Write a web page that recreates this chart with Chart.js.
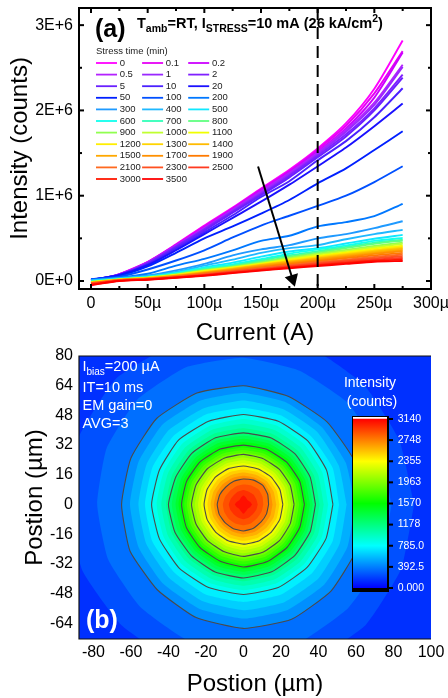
<!DOCTYPE html>
<html>
<head>
<meta charset="utf-8">
<style>
  body { margin: 0; background: #fff; }
  canvas { position: absolute; }
</style>
<script src="https://cdn.jsdelivr.net/npm/chart.js@4"></script>
</head>
<body>
<canvas id="curves" width="448" height="345" style="left:0;top:0"></canvas>
<canvas id="map" width="448" height="353" style="left:0;top:345px"></canvas>
<canvas id="bar" width="100" height="240" style="left:340px;top:370px"></canvas>
<script>
const FONT = '"Liberation Sans", Arial, sans-serif';

// --- panel (a): intensity vs current, values in thousand counts ---
const currents = [0, 25, 50, 75, 100, 125, 150, 175, 200, 225, 250, 275];
const stressTimes = ['0', '0.1', '0.2', '0.5', '1', '2', '5', '10', '20', '50', '100', '200', '300', '400', '500', '600',
  '700', '800', '900', '1000', '1100', '1200', '1300', '1400', '1500', '1700', '1900', '2100', '2300', '2500', '3000', '3500'];
const stressColors = ['#ff00ff', '#e600f5', '#cc00ff', '#b422ff', '#9a28ff', '#8020ff', '#6a20ff', '#4a20ff', '#1a10ff', '#0020ff', '#0050ff', '#0078ff',
  '#1f9aff', '#1fb8ff', '#10e8ff', '#10ffee', '#30ffb8', '#60ff80', '#90ff50', '#c0ff30', '#f0ff00', '#ffee00', '#ffd400', '#ffbb00',
  '#ffa800', '#ff9000', '#ff7a00', '#ff6a20', '#ff5020', '#ff3a20', '#ff1800', '#ff0000'];
const intensity = [
  [-55, 80, 225, 430, 650, 860, 1085, 1305, 1555, 1850, 2255, 2820],
  [-20, 80, 222, 425, 640, 850, 1075, 1290, 1540, 1820, 2200, 2695],
  [-10, 78, 220, 420, 630, 845, 1065, 1280, 1520, 1790, 2150, 2680],
  [0, 77, 218, 415, 620, 835, 1050, 1265, 1505, 1770, 2090, 2535],
  [5, 76, 215, 410, 610, 825, 1035, 1250, 1490, 1750, 2065, 2510],
  [8, 75, 210, 405, 605, 815, 1020, 1235, 1470, 1720, 2025, 2420],
  [10, 74, 205, 395, 590, 800, 1005, 1215, 1450, 1695, 2000, 2385],
  [12, 72, 195, 380, 570, 770, 985, 1170, 1415, 1640, 1920, 2260],
  [15, 70, 185, 360, 550, 740, 930, 1130, 1345, 1565, 1815, 2080],
  [20, 60, 170, 330, 500, 640, 790, 950, 1145, 1320, 1535, 1755],
  [20, 50, 135, 240, 360, 510, 650, 765, 880, 1000, 1160, 1345],
  [15, 40, 85, 180, 260, 360, 470, 530, 640, 690, 760, 905],
  [10, 35, 65, 125, 200, 300, 370, 420, 500, 550, 620, 700],
  [5, 30, 55, 105, 180, 250, 330, 385, 420, 490, 550, 600],
  [0, 25, 50, 95, 160, 215, 285, 345, 385, 440, 495, 540],
  [-5, 22, 48, 90, 150, 195, 255, 320, 370, 415, 470, 505],
  [-8, 20, 45, 85, 140, 180, 240, 300, 350, 400, 450, 485],
  [-10, 20, 42, 80, 130, 170, 225, 285, 335, 385, 435, 475],
  [-12, 18, 40, 75, 125, 165, 215, 270, 320, 365, 410, 450],
  [-14, 18, 38, 72, 120, 160, 205, 260, 310, 350, 395, 435],
  [-16, 16, 36, 70, 115, 155, 200, 250, 295, 335, 380, 415],
  [-18, 15, 35, 68, 110, 150, 195, 240, 285, 325, 365, 405],
  [-20, 14, 33, 65, 105, 145, 190, 232, 275, 315, 355, 390],
  [-22, 13, 32, 62, 100, 140, 185, 225, 265, 305, 342, 380],
  [-24, 12, 30, 60, 97, 135, 180, 218, 257, 295, 330, 365],
  [-26, 11, 28, 56, 92, 130, 170, 208, 245, 282, 318, 350],
  [-28, 10, 26, 52, 87, 122, 160, 198, 232, 268, 300, 330],
  [-30, 8, 24, 48, 80, 115, 150, 185, 220, 250, 282, 310],
  [-33, 6, 22, 45, 75, 110, 142, 175, 208, 238, 265, 290],
  [-36, 4, 20, 42, 70, 105, 135, 168, 198, 225, 250, 270],
  [-42, 2, 18, 40, 66, 98, 128, 158, 185, 212, 238, 250],
  [-48, 0, 15, 38, 62, 92, 122, 150, 175, 200, 225, 235]
];
const xTicks = [0, 50, 100, 150, 200, 250, 300];
const xTickLabels = ['0', '50µ', '100µ', '150µ', '200µ', '250µ', '300µ'];
const yTicks = [0, 1000, 2000, 3000];
const yTickLabels = ['0E+0', '1E+6', '2E+6', '3E+6'];
const markerX = [200, 200];
const markerY = [3201, -94];
const arrowX = [147.4, 177.8];
const arrowY = [1343, 23];

// --- panel (b): emission map, one row of radii (µm) per level, from east going counter-clockwise in 22.5 deg steps ---
const baseLevel = 147;
const bandStep = 98;
const ringLevels = [196, 294, 392.5, 490, 589, 687, 785, 883, 981, 1080, 1178, 1276, 1374, 1472, 1570, 1668, 1767, 1865,
  1963, 2061, 2159, 2257, 2355, 2453, 2552, 2650, 2748, 2846, 2944, 3042];
const contourLevels = [392.5, 785, 1178, 1570, 1963, 2355, 2748];
const ringRadii = [
  [91, 90, 91, 92, 93, 94, 96, 95, 94, 93, 92, 92, 93, 92, 92, 91],
  [79, 78, 78, 78, 79, 80, 80, 79, 78, 78, 78, 79, 80, 80, 79, 79],
  [64, 63.5, 63, 63, 64, 65, 65.5, 65, 65, 65.5, 65, 66, 66.8, 67, 66, 65],
  [59.5, 59, 59, 59.5, 60, 60.5, 61, 60.5, 60.5, 60.5, 60.5, 61, 61.5, 61.5, 61, 60],
  [55, 55, 55.5, 55.5, 56, 56, 56.5, 56, 56, 56, 56, 56.5, 57, 57, 56.5, 55.5],
  [51, 51.5, 51.5, 52, 52, 52.5, 52.5, 52.5, 52.5, 52.5, 52, 52.5, 52.5, 52.5, 52, 51.5],
  [47.7, 48, 48.5, 48.5, 48.5, 48.5, 49, 48.5, 49, 48.5, 48.5, 48.5, 48.5, 48.5, 48, 47.7],
  [45.2, 45.5, 45.8, 46, 46, 46, 46.2, 46, 46.3, 46, 46, 46, 46.2, 46, 45.6, 45.3],
  [42.8, 43, 43.3, 43.4, 43.5, 43.6, 43.7, 43.6, 43.8, 43.6, 43.5, 43.6, 43.8, 43.6, 43.2, 43],
  [40.6, 40.7, 41, 41, 41, 41.2, 41.3, 41.2, 41.3, 41.2, 41.2, 41.3, 41.4, 41.2, 40.9, 40.7],
  [38.4, 38.5, 38.7, 38.7, 38.6, 38.9, 39, 39, 40, 39.5, 39.2, 39.4, 39.6, 39.3, 38.8, 38.5],
  [37, 37, 37.2, 37.1, 37, 37.3, 37.6, 37.8, 38.2, 37.9, 37.6, 37.7, 37.9, 37.6, 37.2, 37],
  [35.5, 35.5, 35.6, 35.5, 35.4, 35.7, 35.9, 36, 36.2, 36, 35.9, 36, 36.2, 36, 35.6, 35.5],
  [34, 34, 34, 33.9, 33.7, 34, 34.3, 34.4, 34.6, 34.4, 34.3, 34.5, 34.9, 34.6, 34.2, 34],
  [32.5, 32.5, 32.4, 32.2, 32, 32.3, 32.6, 32.8, 33, 32.9, 32.8, 33, 33.7, 33.3, 32.8, 32.5],
  [31.1, 31.1, 31, 30.9, 30.7, 31, 31.2, 31.4, 31.6, 31.5, 31.4, 31.6, 32.2, 31.9, 31.4, 31.1],
  [29.7, 29.7, 29.6, 29.5, 29.3, 29.6, 29.8, 30, 30.2, 30.1, 30, 30.2, 30.7, 30.5, 30, 29.7],
  [28.3, 28.3, 28.2, 28.1, 28, 28.2, 28.4, 28.6, 28.9, 28.7, 28.6, 28.8, 29.3, 29, 28.6, 28.3],
  [27, 27, 26.9, 26.8, 27, 27, 27.2, 27.4, 27.7, 27.4, 27.3, 27.5, 28, 27.7, 27.3, 27],
  [25.4, 25.4, 25.3, 25.2, 25.3, 25.4, 25.6, 25.7, 25.9, 25.7, 25.6, 25.8, 26.3, 26, 25.6, 25.4],
  [23.9, 23.9, 23.8, 23.7, 23.8, 23.9, 24, 24.1, 24.2, 24.1, 24, 24.2, 24.6, 24.4, 24, 23.9],
  [22.4, 22.4, 22.3, 22.2, 22.2, 22.4, 22.5, 22.6, 22.6, 22.5, 22.5, 22.7, 23, 22.8, 22.5, 22.4],
  [21, 21, 20.9, 20.7, 20.7, 20.9, 21, 21, 21, 21, 21, 21.2, 21.4, 21.3, 21, 21],
  [19.2, 19.2, 19.3, 19, 18.9, 19, 19.2, 19.2, 19.2, 19.2, 19.2, 19.4, 19.6, 19.5, 19.2, 19.2],
  [17.5, 17.5, 17.6, 17.3, 17.2, 17.2, 17.4, 17.4, 17.5, 17.4, 17.4, 17.6, 17.8, 17.7, 17.5, 17.5],
  [15.5, 15.6, 15.9, 15.6, 15.5, 15.5, 15.5, 15.6, 15.8, 15.7, 15.6, 15.7, 16, 15.9, 15.5, 15.5],
  [13.4, 14, 14.6, 14.2, 13.75, 13.6, 13.3, 13.7, 14, 14, 13.9, 14.1, 14.3, 13.9, 13.3, 13.3],
  [10.6, 11, 11.4, 11, 10.7, 10.5, 10.3, 10.6, 11, 11, 11, 11.1, 11.2, 10.9, 10.4, 10.4],
  [7.6, 7.4, 7.5, 7.4, 7.8, 7.5, 7.2, 7.4, 7.8, 7.6, 7.4, 7.6, 8, 7.6, 7.2, 7.4],
  [4.6, 3.8, 3.2, 3.8, 4.8, 3.8, 3.2, 3.8, 4.6, 3.8, 3.2, 3.8, 5, 3.8, 3.2, 3.8]
];
const mapXTicks = [-80, -60, -40, -20, 0, 20, 40, 60, 80, 100];
const mapYTicks = [80, 64, 48, 32, 16, 0, -16, -32, -48, -64];
const barTicks = [0, 392.5, 785, 1178, 1570, 1963, 2355, 2748, 3140];
const barTickLabels = ['0.000', '392.5', '785.0', '1178', '1570', '1963', '2355', '2748', '3140'];
const barRange = [0, 3140];
const barStops = ['#0000ff', '#00ffff', '#00ff00', '#ffff00', '#ff0000'];

Chart.defaults.font.family = FONT;
Chart.defaults.color = '#000';

const setTicks = (values) => (scale) => { scale.ticks = values.map(value => ({ value })); };
const fixSize = (prop, size) => (scale) => {
  scale[prop] = size;
  scale.paddingLeft = scale.paddingRight = scale.paddingTop = scale.paddingBottom = 0;
};
const noGrid = { display: false, drawTicks: false };

// rainbow lookup matching the colour bar
const levelColor = (level) => {
  const pos = Math.min(level / barRange[1], 1) * 4;
  const i = Math.min(Math.floor(pos), 3);
  const t = pos - i;
  const rgb = [[0, 0, 255], [0, 255, 255], [0, 255, 0], [255, 255, 0], [255, 0, 0]];
  const c = rgb[i].map((v, k) => Math.round(v + (rgb[i + 1][k] - v) * t));
  return `rgb(${c[0]},${c[1]},${c[2]})`;
};

// text pieces with sub/superscripts, shift is in px below the baseline
const drawRuns = (ctx, x, y, runs, color, weight) => {
  ctx.textAlign = 'left';
  ctx.textBaseline = 'middle';
  ctx.fillStyle = color;
  runs.forEach(([text, size, shift]) => {
    ctx.font = `${weight} ${size}px ${FONT}`;
    ctx.fillText(text, x, y + (shift || 0));
    x += ctx.measureText(text).width;
  });
};

// --- 1) panel (a) ---
const curveLabels = {
  id: 'curveLabels',
  beforeDatasetsDraw(chart) {
    const ctx = chart.ctx;
    ctx.save();
    drawRuns(ctx, 95, 30, [['(a)', 25]], '#000', 'bold');
    drawRuns(ctx, 137, 24, [['T', 14.5], ['amb', 10.5, 5], ['=RT, I', 14.5], ['STRESS', 10.5, 5], ['=10 mA (26 kA/cm', 14.5], ['2', 10.5, -5], [')', 14.5]], '#000', 'bold');
    drawRuns(ctx, 96, 51.5, [['Stress time (min)', 9.5]], '#222', 'normal');
    stressTimes.forEach((label, i) => {
      const col = i % 3;
      const row = Math.floor(i / 3);
      const y = 63 + row * 11.6;
      const x = 96 + col * 46.1;
      ctx.strokeStyle = stressColors[i];
      ctx.lineWidth = 1.8;
      ctx.beginPath();
      ctx.moveTo(x, y);
      ctx.lineTo(x + 21, y);
      ctx.stroke();
      drawRuns(ctx, x + 23.7, y, [[label, 9.5]], '#222', 'normal');
    });
    ctx.restore();
  },
  afterDraw(chart) {
    const { ctx, chartArea: a, scales: { x, y } } = chart;
    ctx.save();
    ctx.strokeStyle = '#000';
    ctx.lineWidth = 2;
    ctx.strokeRect(a.left, a.top, a.right - a.left, a.bottom - a.top);
    const mark = (x1, y1, x2, y2) => { ctx.beginPath(); ctx.moveTo(x1, y1); ctx.lineTo(x2, y2); ctx.stroke(); };
    for (let v = 0; v <= 300; v += 25) {
      const px = x.getPixelForValue(v);
      const len = v % 50 === 0 ? 5 : 3;
      mark(px, a.bottom, px, a.bottom - len);
      mark(px, a.top, px, a.top + len);
    }
    for (let v = 0; v <= 3000; v += 500) {
      const py = y.getPixelForValue(v);
      const len = v % 1000 === 0 ? 5 : 3;
      mark(a.left, py, a.left + len, py);
      mark(a.right, py, a.right - len, py);
    }
    ctx.restore();
  }
};

const curveSets = stressTimes.map((label, i) => ({
  label,
  data: currents.map((c, k) => ({ x: c, y: intensity[i][k] })),
  borderColor: stressColors[i],
  borderWidth: 1.9,
  pointRadius: 0,
  tension: 0.25,
  showLine: true,
  order: stressTimes.length - i
}));
curveSets.push({
  label: 'marker',
  data: markerX.map((v, k) => ({ x: v, y: markerY[k] })),
  borderColor: '#000',
  borderWidth: 2,
  borderDash: [12, 7],
  pointRadius: 0,
  showLine: true,
  order: -1
});
curveSets.push({
  label: 'arrow',
  data: arrowX.map((v, k) => ({ x: v, y: arrowY[k] })),
  borderColor: '#000',
  backgroundColor: '#000',
  borderWidth: 2,
  pointStyle: 'triangle',
  pointRadius: [0, 6],
  rotation: 163,
  showLine: true,
  order: -2
});

new Chart(document.getElementById('curves'), {
  type: 'scatter',
  data: { datasets: curveSets },
  plugins: [curveLabels],
  options: {
    responsive: false,
    animation: false,
    devicePixelRatio: 1,
    layout: { padding: { left: 0, right: 17, top: 7, bottom: 0 } },
    plugins: { legend: { display: false }, tooltip: { enabled: false } },
    scales: {
      x: {
        min: -10.6, max: 300,
        grid: noGrid,
        border: { display: false },
        afterBuildTicks: setTicks(xTicks),
        afterFit: fixSize('height', 56),
        ticks: { font: { size: 16 }, maxRotation: 0, autoSkip: false, padding: 5, callback: (v, i) => xTickLabels[i] },
        title: { display: true, text: 'Current (A)', font: { size: 24 }, padding: { top: 0, bottom: -3 } }
      },
      y: {
        min: -94, max: 3201,
        grid: noGrid,
        border: { display: false },
        afterBuildTicks: setTicks(yTicks),
        afterFit: fixSize('width', 79),
        ticks: { font: { size: 16 }, autoSkip: false, padding: 6, callback: (v, i) => yTickLabels[i] },
        title: { display: true, text: 'Intensity (counts)', font: { size: 24 }, padding: { top: 6, bottom: 0 } }
      }
    }
  }
});

// --- 2) panel (b) ---
const mapLabels = {
  id: 'mapLabels',
  beforeDatasetsDraw(chart) {
    const { ctx, chartArea: a } = chart;
    ctx.save();
    ctx.fillStyle = levelColor(baseLevel);
    ctx.fillRect(a.left, a.top, a.right - a.left, a.bottom - a.top);
    ctx.restore();
  },
  afterDraw(chart) {
    const { ctx, chartArea: a } = chart;
    ctx.save();
    ctx.strokeStyle = '#111';
    ctx.lineWidth = 1.2;
    ctx.beginPath();
    ctx.moveTo(a.right, a.top);
    ctx.lineTo(a.left, a.top);
    ctx.lineTo(a.left, a.bottom);
    ctx.lineTo(a.right, a.bottom);
    ctx.stroke();
    drawRuns(ctx, 82.5, 22, [['I', 14.5], ['bias', 10, 5], ['=200 µA', 14.5]], '#fff', 'normal');
    drawRuns(ctx, 82.5, 43, [['IT=10 ms', 14.5]], '#fff', 'normal');
    drawRuns(ctx, 82.5, 61, [['EM gain=0', 14.5]], '#fff', 'normal');
    drawRuns(ctx, 82.5, 79, [['AVG=3', 14.5]], '#fff', 'normal');
    drawRuns(ctx, 86, 276, [['(b)', 25]], '#fff', 'bold');
    ctx.restore();
  }
};

const ringSets = ringLevels.map((level, i) => ({
  label: String(level),
  data: ringRadii[i].concat(ringRadii[i][0]).map((r, k) => ({
    x: r * Math.cos(k * Math.PI / 8),
    y: r * Math.sin(k * Math.PI / 8)
  })),
  backgroundColor: levelColor(level + bandStep / 2),
  borderColor: '#4a4a4a',
  borderWidth: contourLevels.includes(level) ? 1.1 : 0,
  fill: 'shape',
  pointRadius: 0,
  tension: 0.15,
  capBezierPoints: false,
  showLine: true,
  order: ringLevels.length - i
}));

new Chart(document.getElementById('map'), {
  type: 'scatter',
  data: { datasets: ringSets },
  plugins: [mapLabels],
  options: {
    responsive: false,
    animation: false,
    devicePixelRatio: 1,
    layout: { padding: { left: 0, right: 17, top: 11, bottom: 0 } },
    plugins: { legend: { display: false }, tooltip: { enabled: false } },
    scales: {
      x: {
        min: -87.7, max: 100,
        grid: noGrid,
        border: { display: false },
        afterBuildTicks: setTicks(mapXTicks),
        afterFit: fixSize('height', 59),
        ticks: { font: { size: 16 }, maxRotation: 0, autoSkip: false, padding: 4 },
        title: { display: true, text: 'Postion (µm)', font: { size: 24 }, padding: { top: 0, bottom: -1 } }
      },
      y: {
        min: -72.5, max: 80,
        grid: noGrid,
        border: { display: false },
        afterBuildTicks: setTicks(mapYTicks),
        afterFit: fixSize('width', 79),
        ticks: { font: { size: 16 }, autoSkip: false, padding: 6 },
        title: { display: true, text: 'Postion (µm)', font: { size: 24 }, padding: { top: 21, bottom: 0 } }
      }
    }
  }
});

// --- 3) colour bar, its own transparent chart over the map ---
const barFrame = {
  id: 'barFrame',
  beforeDatasetsDraw(chart) {
    const { ctx, chartArea: a } = chart;
    ctx.fillStyle = '#fff';
    ctx.fillRect(a.left, a.top, a.right - a.left, a.bottom - a.top);
  },
  afterDraw(chart) {
    const { ctx, chartArea: a, scales: { y } } = chart;
    ctx.save();
    ctx.strokeStyle = '#000';
    ctx.lineWidth = 1;
    ctx.strokeRect(a.left + 0.5, a.top + 0.5, a.right - a.left, a.bottom - a.top);
    ctx.lineWidth = 2;
    barTicks.forEach(v => {
      const py = y.getPixelForValue(v);
      ctx.beginPath();
      ctx.moveTo(a.right, py);
      ctx.lineTo(a.right + 5, py);
      ctx.stroke();
    });
    ctx.beginPath();
    ctx.moveTo(a.right, a.top);
    ctx.lineTo(a.right, a.bottom);
    ctx.stroke();
    ctx.lineWidth = 4;
    ctx.beginPath();
    ctx.moveTo(a.left, a.bottom - 1);
    ctx.lineTo(a.right + 1, a.bottom - 1);
    ctx.stroke();
    ctx.textAlign = 'center';
    ctx.textBaseline = 'middle';
    ctx.fillStyle = '#fff';
    ctx.font = `14px ${FONT}`;
    ctx.fillText('Intensity', 30, 13);
    ctx.fillText('(counts)', 32, 31.7);
    ctx.restore();
  }
};

new Chart(document.getElementById('bar'), {
  type: 'bar',
  data: {
    labels: ['Intensity'],
    datasets: [{
      data: [barRange],
      barPercentage: 1,
      categoryPercentage: 1,
      backgroundColor: (c) => {
        const y = c.chart.scales.y;
        const from = y ? y.getPixelForValue(barRange[0]) : NaN;
        if (!isFinite(from)) return barStops[0];
        const g = c.chart.ctx.createLinearGradient(0, from, 0, y.getPixelForValue(barRange[1]));
        barStops.forEach((s, i) => g.addColorStop(i / (barStops.length - 1), s));
        return g;
      }
    }]
  },
  plugins: [barFrame],
  options: {
    responsive: false,
    animation: false,
    devicePixelRatio: 1,
    layout: { padding: { left: 12, right: 0, top: 46, bottom: 19 } },
    plugins: { legend: { display: false }, tooltip: { enabled: false } },
    scales: {
      x: { display: false },
      y: {
        position: 'right',
        min: -56, max: 3196,
        grid: noGrid,
        border: { display: false },
        afterBuildTicks: setTicks(barTicks),
        afterFit: fixSize('width', 52),
        ticks: { font: { size: 10.5 }, color: '#fff', autoSkip: false, padding: 9.7, callback: (v, i) => barTickLabels[i] }
      }
    }
  }
});
</script>
</body>
</html>
